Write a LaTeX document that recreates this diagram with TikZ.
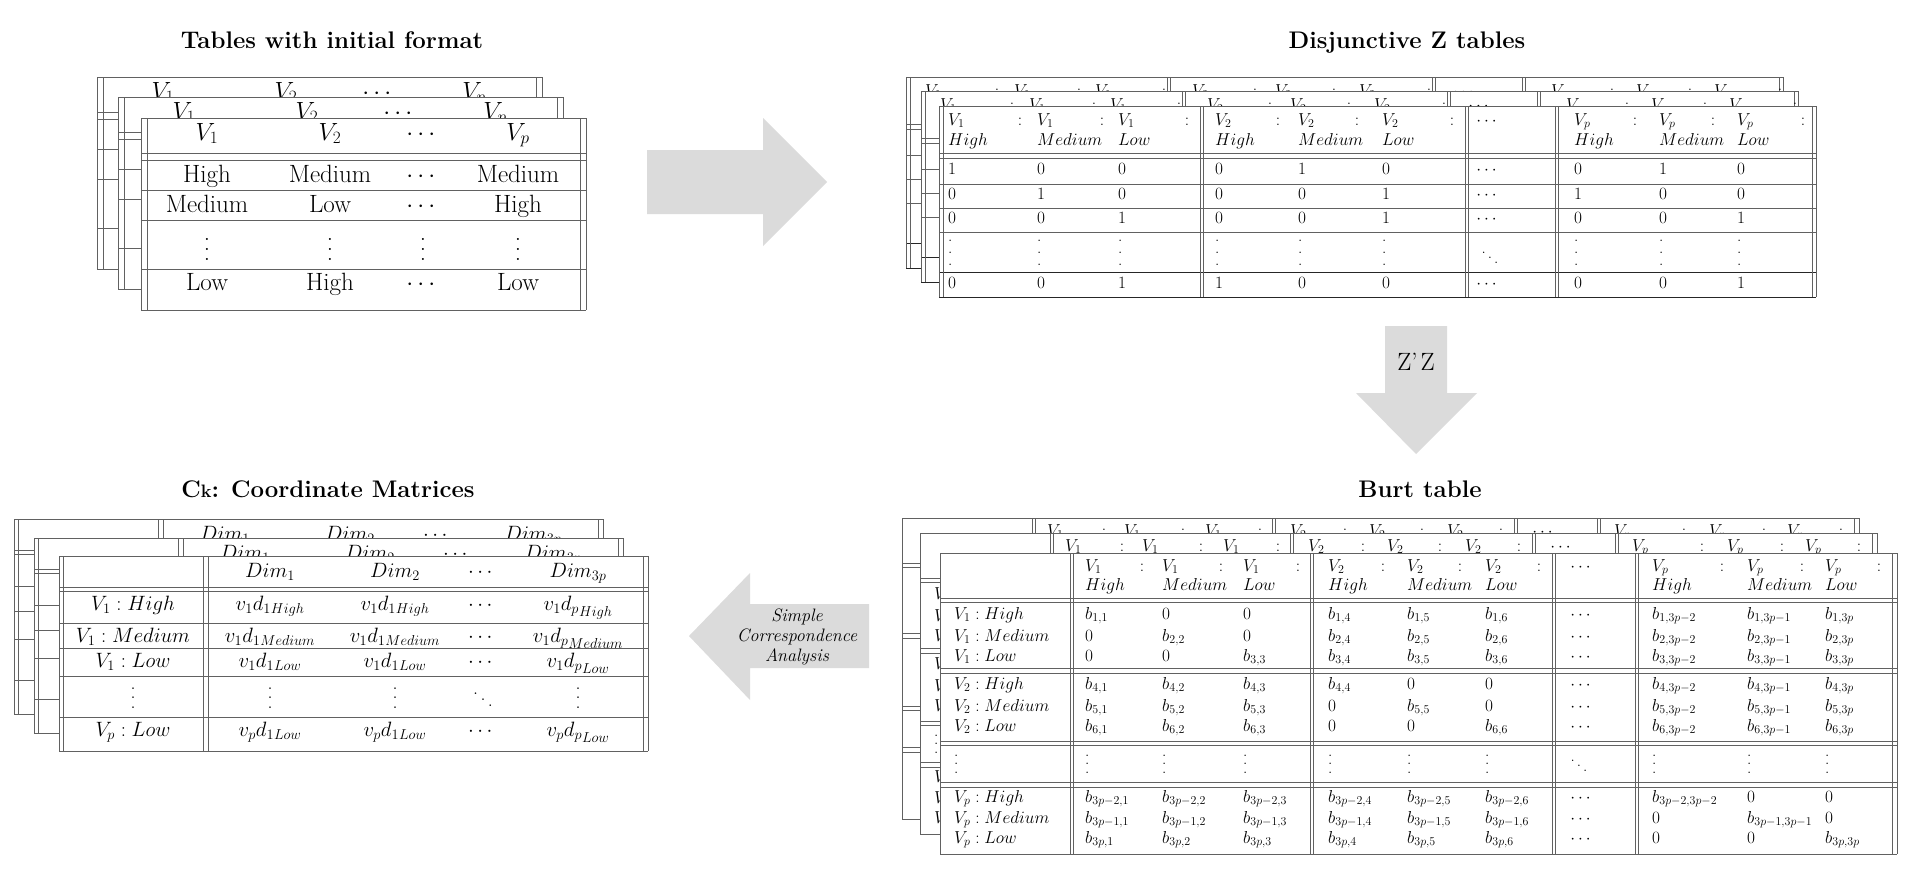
\documentclass[tikz,border=0pt]{standalone}
\usepackage{amsmath}
\newcommand\fsA{\fontsize{25}{30}\selectfont}
\newcommand\fsB{\fontsize{17}{20}\selectfont}
\newcommand\fsC{\fontsize{17}{20}\selectfont}
\newcommand\fsD{\fontsize{20}{24}\selectfont}
\newcommand\fsT{\fontsize{24}{28}\selectfont\bfseries}
\newcommand\Vd[1][0.45em]{\vbox{\baselineskip#1\lineskiplimit0pt\kern0.6em\hbox{.}\hbox{.}\hbox{.}}}
\newcommand\Dd{\ensuremath{\mathinner{\mkern1mu\raise0.7em\vbox{\kern0.7em\hbox{.}}\mkern2mu\raise0.4em\hbox{.}\mkern2mu\raise0.1em\hbox{.}\mkern1mu}}}
\tikzset{
 tl/.style={draw=black!62,line width=1pt},
 tld/.style={draw=black!85,line width=1pt},
 cA/.style={anchor=base,inner sep=0pt,font=\fsA},
 cB/.style={anchor=base west,inner sep=0pt,font=\fsB},
 cBc/.style={anchor=base,inner sep=0pt,font=\fsB},
 cC/.style={anchor=base west,inner sep=0pt,font=\fsC},
 cCc/.style={anchor=base,inner sep=0pt,font=\fsC},
 cD/.style={anchor=base,inner sep=0pt,font=\fsD},
 ttl/.style={anchor=base,inner sep=0pt,font=\fsT},
 barrow/.style={fill=black!14,draw=none},
}
% ---------- Table 1: initial format ----------
\newcommand\TabA[4]{%
\begin{scope}[shift={(#2,#3)}]
 \fill[white] (141,118) rectangle (586,310);
 \foreach \ya in {118,153,160,190,220,269,310}{\draw[tl] (141,\ya) -- (586,\ya);}
 \foreach \xa in {141,147,580,586}{\draw[tl] (\xa,118) -- (\xa,310);}
 \node[cA] (#1-h1) at (207,140) {$V_1$};
 \node[cA] (#1-h2) at (330,140) {$V_2$};
 \node[cA] (#1-h3) at (423,140) {$\cdots$};
 \node[cA] (#1-h4) at (518,140) {$V_p$};
 \ifnum#4=1
  \foreach \xa/\ra/\rb/\rd [count=\ia] in {207/High/Medium/Low, 330/Medium/Low/High, 423/{$\cdots$}/{$\cdots$}/{$\cdots$}, 518/Medium/High/Low}{
   \node[cA] (#1-a\ia) at (\xa,182) {\ra};
   \node[cA] (#1-b\ia) at (\xa,212) {\rb};
   \node[cA] (#1-c\ia) at (\xa,260) {\Vd[0.4em]};
   \node[cA] (#1-d\ia) at (\xa,290) {\rd};
  }
 \fi
\end{scope}}
% ---------- Table 2: disjunctive ----------
\newcommand\TabB[5]{%
\begin{scope}[shift={(#2,#3)}]
 \fill[white] (939,106) rectangle (1816,297);
 \foreach \ya in {106,153,158,184,208,232}{\draw[tl] (939,\ya) -- (1816,\ya);}
 \draw[tld] (939,272) -- (1816,272);
 \draw[tld] (939,297) -- (1816,297);
 \foreach \xa in {939,943,1200,1203,1465,1468,1555,1558,1812,1816}{\draw[tl] (\xa,106) -- (\xa,297);}
 \begin{scope}[xshift=#5]
 \foreach \xa/\xb/\va/\wa [count=\ia] in {948/1020/V_1/High, 1037/1102/V_1/Medium, 1118/1187/V_1/Low, 1215/1278/V_2/High, 1298/1357/V_2/Medium, 1382/1452/V_2/Low, 1574/1635/V_p/High, 1659/1713/V_p/Medium, 1737/1803/V_p/Low}{
  \node[cB] (#1-hv\ia) at (\xa,125) {$\va$};
  \node[cBc] (#1-hc\ia) at (\xb,125) {$:$};
  \node[cB] (#1-hw\ia) at (\xa,145) {$\wa$};
 }
 \node[cBc] (#1-hd) at (1488,125) {$\cdots$};
 \end{scope}
 \ifnum#4=1
  \foreach \xa/\ra/\rb/\rc/\rd [count=\ia] in {948/1/0/0/0, 1037/0/1/0/0, 1118/0/0/1/1, 1215/0/0/0/1, 1298/1/0/0/0, 1382/0/1/1/0, 1574/0/1/0/0, 1659/1/0/0/0, 1737/0/0/1/1}{
   \node[cB] (#1-a\ia) at (\xa,174) {$\ra$};
   \node[cB] (#1-b\ia) at (\xa,199) {$\rb$};
   \node[cB] (#1-c\ia) at (\xa,223) {$\rc$};
   \node[cB] (#1-v\ia) at (\xa,265) {\Vd[0.68em]};
   \node[cB] (#1-d\ia) at (\xa,288) {$\rd$};
  }
  \foreach \ya [count=\ia] in {174,199,223,288}{\node[cBc] (#1-dd\ia) at (1488,\ya) {$\cdots$};}
  \node[cBc] (#1-ddv) at (1490,265) {\Dd};
 \fi
\end{scope}}
% ---------- Table 3: Burt ----------
\newcommand\TabC[4]{%
\begin{scope}[shift={(#2,#3)}]
 \fill[white] (940,553) rectangle (1897,854);
 \foreach \ya in {553,598,602,668,673,741,745,782,787,854}{\draw[tl] (940,\ya) -- (1897,\ya);}
 \foreach \xa in {940,1070,1073,1310,1313,1552,1555,1635,1638,1892,1897}{\draw[tl] (\xa,553) -- (\xa,854);}
 \foreach \xa/\xb/\va/\wa [count=\ia] in {1085/1142/V_1/High, 1162/1221/V_1/Medium, 1243/1298/V_1/Low, 1328/1383/V_2/High, 1407/1460/V_2/Medium, 1485/1539/V_2/Low, 1652/1722/V_p/High, 1747/1802/V_p/Medium, 1825/1879/V_p/Low}{
  \node[cC] (#1-hv\ia) at (\xa,571) {$\va$};
  \node[cCc] (#1-hc\ia) at (\xb,571) {$:$};
  \node[cC] (#1-hw\ia) at (\xa,590) {$\wa$};
 }
 \node[cCc] (#1-hd) at (1582,571) {$\cdots$};
 \ifnum#4>0
  \foreach \ya/\la [count=\ia] in {619/V_1 : High, 641/V_1 : Medium, 661/V_1 : Low, 689/V_2 : High, 711/V_2 : Medium, 731/V_2 : Low, 802/V_p : High, 823/V_p : Medium, 843/V_p : Low}{
   \node[cC] (#1-l\ia) at (954,\ya) {$\la$};}
  \node[cC] (#1-lv) at (954,773) {\Vd[0.49em]};
 \fi
 \ifnum#4>1
  \foreach \xa/\ra/\rb/\rc/\rd/\re/\rf/\rg/\rh/\ri [count=\ia] in {
   1085/b_{1,1}/0/0/b_{4,1}/b_{5,1}/b_{6,1}/b_{3p-2,1}/b_{3p-1,1}/b_{3p,1},
   1162/0/b_{2,2}/0/b_{4,2}/b_{5,2}/b_{6,2}/b_{3p-2,2}/b_{3p-1,2}/b_{3p,2},
   1243/0/0/b_{3,3}/b_{4,3}/b_{5,3}/b_{6,3}/b_{3p-2,3}/b_{3p-1,3}/b_{3p,3},
   1328/b_{1,4}/b_{2,4}/b_{3,4}/b_{4,4}/0/0/b_{3p-2,4}/b_{3p-1,4}/b_{3p,4},
   1407/b_{1,5}/b_{2,5}/b_{3,5}/0/b_{5,5}/0/b_{3p-2,5}/b_{3p-1,5}/b_{3p,5},
   1485/b_{1,6}/b_{2,6}/b_{3,6}/0/0/b_{6,6}/b_{3p-2,6}/b_{3p-1,6}/b_{3p,6},
   1652/b_{1,3p-2}/b_{2,3p-2}/b_{3,3p-2}/b_{4,3p-2}/b_{5,3p-2}/b_{6,3p-2}/b_{3p-2,3p-2}/0/0,
   1747/b_{1,3p-1}/b_{2,3p-1}/b_{3,3p-1}/b_{4,3p-1}/b_{5,3p-1}/b_{6,3p-1}/0/b_{3p-1,3p-1}/0,
   1825/b_{1,3p}/b_{2,3p}/b_{3,3p}/b_{4,3p}/b_{5,3p}/b_{6,3p}/0/0/b_{3p,3p}}{
   \foreach \ya/\ca [count=\ib] in {619/\ra,641/\rb,661/\rc,689/\rd,711/\re,731/\rf,802/\rg,823/\rh,843/\ri}{
    \node[cC] (#1-v\ia-\ib) at (\xa,\ya) {$\ca$};}
   \node[cC] (#1-vd\ia) at (\xa,773) {\Vd[0.49em]};
  }
  \foreach \ya [count=\ia] in {619,641,661,689,711,731,802,823,843}{\node[cCc] (#1-dd\ia) at (1582,\ya) {$\cdots$};}
  \node[cCc] (#1-ddv) at (1579,773) {\Dd};
 \fi
\end{scope}}
% ---------- Table 4: coordinate matrices ----------
\newcommand\TabD[4]{%
\begin{scope}[shift={(#2,#3)}]
 \fill[white] (59,556) rectangle (648,751);
 \foreach \ya in {556,587,591,623,648,676,717,751}{\draw[tl] (59,\ya) -- (648,\ya);}
 \foreach \xa in {59,63,203,208,643,648}{\draw[tl] (\xa,556) -- (\xa,751);}
 \node[cD] (#1-h1) at (270,577) {$Dim_1$};
 \node[cD] (#1-h2) at (395,577) {$Dim_2$};
 \node[cD] (#1-h3) at (482,577) {$\cdots$};
 \node[cD] (#1-h4) at (578,577) {$Dim_{3p}$};
 \ifnum#4=1
  \foreach \xa/\ra/\rb/\rc/\rd [count=\ia] in {
   133/{V_1 : High}/{V_1 : Medium}/{V_1 : Low}/{V_p : Low},
   270/{v_1{d_1}_{High}}/{v_1{d_1}_{Medium}}/{v_1{d_1}_{Low}}/{v_p{d_1}_{Low}},
   395/{v_1{d_1}_{High}}/{v_1{d_1}_{Medium}}/{v_1{d_1}_{Low}}/{v_p{d_1}_{Low}},
   482/\cdots/\cdots/\cdots/\cdots,
   578/{v_1{d_p}_{High}}/{v_1{d_p}_{Medium}}/{v_1{d_p}_{Low}}/{v_p{d_p}_{Low}}}{
   \node[cD] (#1-a\ia) at (\xa,610) {$\ra$};
   \node[cD] (#1-b\ia) at (\xa,642) {$\rb$};
   \node[cD] (#1-c\ia) at (\xa,667) {$\rc$};
   \node[cD] (#1-d\ia) at (\xa,736) {$\rd$};
  }
  \foreach \xa [count=\ia] in {133,270,395,578}{\node[cD] (#1-v\ia) at (\xa,708) {\Vd[0.47em]};}
  \node[cD] (#1-vdd) at (483,708) {\Dd};
 \fi
\end{scope}}
\begin{document}
\begin{tikzpicture}[x=1pt,y=-1pt]
\fill[white] (0,0) rectangle (1914,886);
\useasboundingbox (0,0) rectangle (1914,886);
% titles
\node[ttl] (t1) at (332,48) {Tables with initial format};
\node[ttl] (t2) at (1407,48) {Disjunctive Z tables};
\node[ttl] (t3) at (1420,497) {Burt table};
\node[ttl] (t4) at (328,497) {C{\fontsize{18}{20}\selectfont k}: Coordinate Matrices};
% tables
\TabA{ta3}{-44}{-41}{0}
\TabA{ta2}{-23}{-21}{0}
\TabA{ta1}{0}{0}{1}
\TabB{tb3}{-33}{-29}{0}{10}
\TabB{tb2}{-18}{-15}{0}{10}
\TabB{tb1}{0}{0}{1}{0}
\TabC{tc3}{-38}{-35}{0}
\TabC{tc2}{-20}{-20}{1}
\TabC{tc1}{0}{0}{2}
\TabD{td3}{-45}{-37}{0}
\TabD{td2}{-25}{-18}{0}
\TabD{td1}{0}{0}{1}
% block arrows
\fill[barrow] (647,150) -- (763,150) -- (763,118) -- (827,182) -- (763,246) -- (763,214) -- (647,214) -- cycle;
\fill[barrow] (1385,326) -- (1447,326) -- (1447,393) -- (1477,393) -- (1416,454) -- (1356,393) -- (1385,393) -- cycle;
\fill[barrow] (869,604) -- (750,604) -- (750,573) -- (689,636) -- (750,700) -- (750,668) -- (869,668) -- cycle;
\node[inner sep=0pt,font=\fontsize{25}{30}\selectfont] (zz) at (1416,362) {Z’\hspace{3pt}Z};
\node[inner sep=0pt,align=center,font=\itshape\fontsize{18}{20}\selectfont] (sca) at (797,637) {Simple\\Correspondence\\Analysis};
\end{tikzpicture}
\end{document}
